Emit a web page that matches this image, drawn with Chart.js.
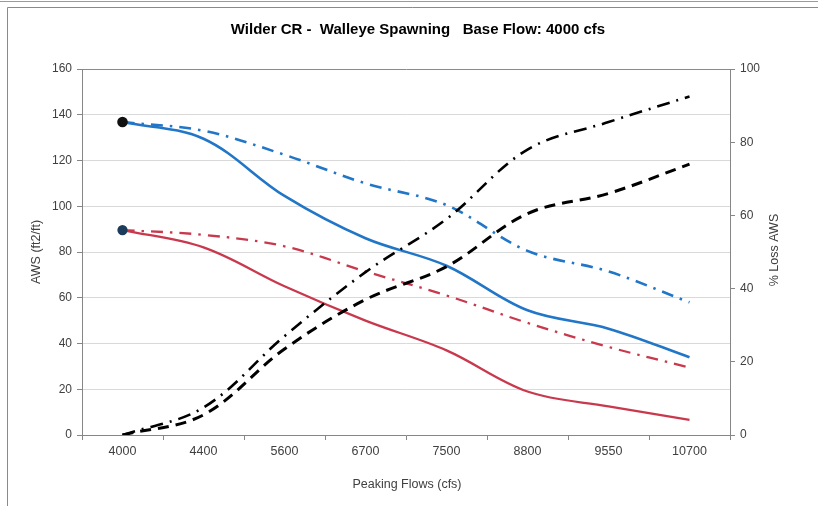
<!DOCTYPE html>
<html>
<head>
<meta charset="utf-8">
<script src="https://cdn.jsdelivr.net/npm/chart.js@4/dist/chart.umd.min.js"></script>
<style>
html,body{margin:0;padding:0;background:#fff;}
#wrap{width:818px;height:506px;position:relative;}
</style>
</head>
<body>
<div id="wrap"><canvas id="c" width="818" height="506"></canvas></div>
<script>
// ---- data ----
const categories = ['4000','4400','5600','6700','7500','8800','9550','10700'];
const awsBlue    = [136.8, 129.5, 104.5, 86, 74, 54.5, 46.5, 34];
const awsBlueAlt = [136.8, 133, 122.5, 110, 100.5, 80.5, 71.5, 58];
const awsRed     = [89.6, 82, 65, 50, 37, 19, 12.5, 6.6];
const awsRedAlt  = [89.6, 87.5, 82.5, 71.5, 61, 49, 38.5, 29.5];
const lossBlue   = [0, 5.5, 23.5, 37, 46, 60.5, 66, 74];
const lossRed    = [0, 7.5, 27, 44.5, 59, 78, 85.5, 92.5];
const leftTicks  = [0, 20, 40, 60, 80, 100, 120, 140, 160];
const rightTicks = [0, 20, 40, 60, 80, 100];

const chartTitle = 'Wilder CR -  Walleye Spawning   Base Flow: 4000 cfs';
const leftTitle = 'AWS (ft2/ft)';
const rightTitle = '% Loss AWS';
const xTitle = 'Peaking Flows (cfs)';

const BLUE = '#2176c7';
const RED = '#c9394e';
const FONT = "'Liberation Sans', Arial, sans-serif";

function firstMarker(ctx){ return ctx.dataIndex === 0 ? 4 : 0; }

const framePlugin = {
  id: 'frame',
  beforeDraw(chart){
    const c = chart.ctx;
    c.save();
    c.fillStyle = '#fff';
    c.fillRect(0,0,chart.width,chart.height);
    c.strokeStyle = '#9a9a9a';
    c.lineWidth = 1;
    c.beginPath();
    c.moveTo(0,1.5); c.lineTo(818,1.5);
    c.stroke();
    c.strokeStyle = '#8a8a8a';
    c.beginPath();
    c.moveTo(818,7.5); c.lineTo(7.5,7.5); c.lineTo(7.5,506);
    c.stroke();
    c.restore();
  },
  afterDraw(chart){
    const c = chart.ctx;
    c.save();
    c.fillStyle = '#000';
    c.font = 'bold 15px ' + FONT;
    c.textAlign = 'center';
    c.textBaseline = 'middle';
    c.fillText(chartTitle, 418, 30);
    c.fillStyle = '#404040';
    c.font = '12.5px ' + FONT;
    c.fillText(xTitle, 407, 485);
    c.translate(37, 252);
    c.rotate(-Math.PI/2);
    c.fillText(leftTitle, 0, 0);
    c.restore();
    c.save();
    c.fillStyle = '#404040';
    c.font = '12.5px ' + FONT;
    c.textAlign = 'center';
    c.textBaseline = 'middle';
    c.translate(775, 250);
    c.rotate(-Math.PI/2);
    c.fillText(rightTitle, 0, 0);
    c.restore();
  }
};

new Chart(document.getElementById('c'), {
  type: 'line',
  data: {
    labels: categories,
    datasets: [
      { label: 'Loss (blue)', data: lossBlue, yAxisID: 'y2', borderColor: '#000', borderWidth: 3, borderDash: [11,7], pointRadius: 0, tension: 0.35, fill: false },
      { label: 'Loss (red)', data: lossRed, yAxisID: 'y2', borderColor: '#000', borderWidth: 2.6, borderDash: [13,7,2,7], pointRadius: 0, tension: 0.35, fill: false },
      { label: 'AWS blue', data: awsBlue, yAxisID: 'y', borderColor: BLUE, borderWidth: 2.6, pointRadius: firstMarker, pointBackgroundColor: '#111', pointBorderColor: '#111', tension: 0.35, fill: false },
      { label: 'AWS blue alt', data: awsBlueAlt, yAxisID: 'y', borderColor: BLUE, borderWidth: 2.6, borderDash: [12,7,2.5,7], pointRadius: 0, tension: 0.35, fill: false },
      { label: 'AWS red', data: awsRed, yAxisID: 'y', borderColor: RED, borderWidth: 2.3, pointRadius: firstMarker, pointBackgroundColor: '#1d3c5c', pointBorderColor: '#1d3c5c', tension: 0.35, fill: false },
      { label: 'AWS red alt', data: awsRedAlt, yAxisID: 'y', borderColor: RED, borderWidth: 2.3, borderDash: [12,7,2.5,7], pointRadius: 0, tension: 0.35, fill: false }
    ]
  },
  options: {
    responsive: false,
    animation: false,
    devicePixelRatio: 1,
    layout: { padding: { top: 69, left: 0, right: 0, bottom: 0 } },
    plugins: { legend: { display: false }, title: { display: false }, tooltip: { enabled: false } },
    scales: {
      x: {
        type: 'category',
        offset: true,
        grid: { offset: true, drawOnChartArea: false, drawTicks: true, tickLength: 5, color: '#868686' },
        border: { display: true, color: '#868686', width: 1 },
        ticks: { color: '#404040', font: { size: 12.5, family: FONT }, padding: 4, maxRotation: 0, autoSkip: false },
        afterFit(s){ s.height = 71; }
      },
      y: {
        position: 'left',
        min: 0, max: 160,
        afterBuildTicks(s){ s.ticks = leftTicks.map(v => ({ value: v })); },
        grid: {
          color(ctx){ return ctx.tick && ctx.tick.value === 160 ? '#8a8a8a' : '#d9d9d9'; },
          tickColor: '#868686', tickLength: 5, drawTicks: true
        },
        border: { display: true, color: '#868686', width: 1 },
        ticks: { color: '#404040', font: { size: 12, family: FONT }, padding: 5 },
        afterFit(s){ s.width = 82; }
      },
      y2: {
        position: 'right',
        min: 0, max: 100,
        afterBuildTicks(s){ s.ticks = rightTicks.map(v => ({ value: v })); },
        grid: { drawOnChartArea: false, color: '#868686', tickLength: 5, drawTicks: true },
        border: { display: true, color: '#868686', width: 1 },
        ticks: { color: '#404040', font: { size: 12, family: FONT }, padding: 5 },
        afterFit(s){ s.width = 88; }
      }
    }
  },
  plugins: [framePlugin]
});
</script>
</body>
</html>
